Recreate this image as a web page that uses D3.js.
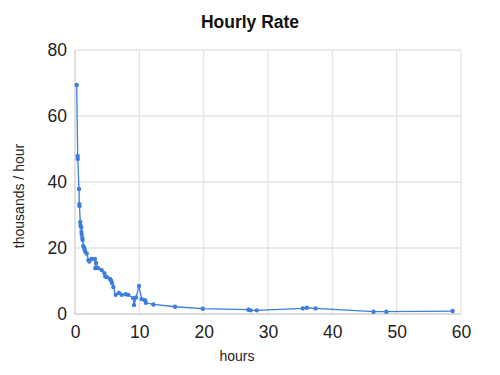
<!DOCTYPE html>
<html><head><meta charset="utf-8">
<script src="https://cdn.jsdelivr.net/npm/d3@7"></script>
<style>body{margin:0;background:#fff}svg{display:block;font-family:Arial,"Liberation Sans",sans-serif}</style>
</head><body><svg id="c" width="500" height="375"></svg>
<script>
const hours = [0.26,0.42,0.43,0.62,0.67,0.7,0.82,0.85,0.98,1.0,1.04,1.14,1.18,1.29,1.45,1.5,1.6,1.82,2.1,2.22,2.6,3.1,3.16,3.27,3.62,4.15,4.56,4.7,4.93,5.44,5.6,5.75,5.96,6.33,6.84,7.26,7.88,8.29,9.07,9.18,9.49,9.95,10.37,10.89,11.0,12.18,15.55,19.85,26.96,27.3,28.25,35.4,36.03,37.4,46.4,48.4,58.7];
const rate = [69.4,47.9,47.0,37.9,33.3,32.7,27.9,26.8,26.2,24.9,24.0,23.0,22.4,20.6,20.0,19.4,18.9,18.3,16.3,15.9,16.7,16.7,13.9,15.5,13.9,13.3,12.4,11.4,11.2,10.6,10.2,9.4,8.2,5.8,6.4,5.8,6.0,5.8,4.8,2.7,5.0,8.5,4.5,4.2,3.4,2.9,2.2,1.6,1.3,1.1,1.1,1.7,1.9,1.7,0.7,0.7,0.9];
const xTicks = [0,10,20,30,40,50,60];
const yTicks = [0,20,40,60,80];
const title = "Hourly Rate", xTitle = "hours", yTitle = "thousands / hour";

const svg = d3.select("#c");
const x = d3.scaleLinear().domain([0,60]).range([75,461]);
const y = d3.scaleLinear().domain([0,80]).range([314,50]);

svg.append("g").selectAll("line").data(xTicks.slice(1)).join("line")
  .attr("x1",d=>x(d)).attr("x2",d=>x(d)).attr("y1",y(80)).attr("y2",y(0))
  .attr("stroke","#e3e3e3").attr("stroke-width",1.3);
svg.append("g").selectAll("line").data(yTicks.slice(1)).join("line")
  .attr("x1",x(0)).attr("x2",x(60)).attr("y1",d=>y(d)).attr("y2",d=>y(d))
  .attr("stroke","#e3e3e3").attr("stroke-width",1.3);
svg.append("line").attr("x1",x(0)).attr("x2",x(60)).attr("y1",y(0)).attr("y2",y(0)).attr("stroke","#d0d0d0").attr("stroke-width",1.3);
svg.append("line").attr("x1",x(0)).attr("x2",x(0)).attr("y1",y(80)).attr("y2",y(0)).attr("stroke","#d0d0d0").attr("stroke-width",1.3);

const xa = svg.append("g").attr("transform",`translate(0,${y(0)})`).call(d3.axisBottom(x).tickValues(xTicks).tickSize(0).tickPadding(12));
xa.select(".domain").remove();
xa.selectAll("text").attr("font-size",17.5).attr("fill","#222").attr("font-family","Arial,'Liberation Sans',sans-serif");
const ya = svg.append("g").attr("transform",`translate(${x(0)},0)`).call(d3.axisLeft(y).tickValues(yTicks).tickSize(0).tickPadding(8));
ya.select(".domain").remove();
ya.selectAll("text").attr("font-size",17.5).attr("fill","#222").attr("font-family","Arial,'Liberation Sans',sans-serif");

const pts = hours.map((h,i)=>({h,v:rate[i]}));
svg.append("path").datum(pts).attr("fill","none").attr("stroke","#3c7ddf").attr("stroke-width",1.3)
  .attr("d",d3.line().x(d=>x(d.h)).y(d=>y(d.v)));
svg.append("g").selectAll("circle").data(pts).join("circle")
  .attr("cx",d=>x(d.h)).attr("cy",d=>y(d.v)).attr("r",2.2).attr("fill","#3c7ddf");

svg.append("text").attr("x",250).attr("y",28).attr("text-anchor","middle").attr("font-size",17.5).attr("font-weight","bold").attr("fill","#111").text(title);
svg.append("text").attr("x",237).attr("y",361).attr("text-anchor","middle").attr("font-size",14).attr("fill","#222").text(xTitle);
svg.append("text").attr("transform",`translate(24,196) rotate(-90)`).attr("text-anchor","middle").attr("font-size",14).attr("fill","#222").text(yTitle);
</script></body></html>
